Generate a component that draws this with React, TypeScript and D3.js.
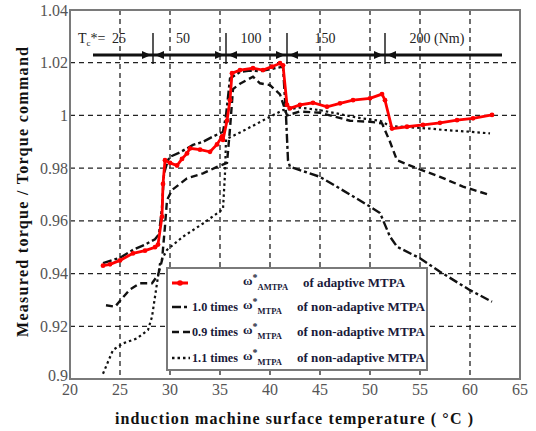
import React from "react";
import * as d3 from "d3";

const xTicks = [20, 25, 30, 35, 40, 45, 50, 55, 60, 65];
const yTicks = [0.9, 0.92, 0.94, 0.96, 0.98, 1.0, 1.02, 1.04];
const yTickLabels = ["0.9", "0.92", "0.94", "0.96", "0.98", "1", "1.02", "1.04"];

// adaptive MTPA (red)
const adaptiveT = [23.3, 24, 25, 26.3, 27.5, 28.5, 28.8, 29.2, 29.3, 29.5, 30, 30.7, 31.2, 31.7, 32, 33, 34, 34.7, 35.2, 35.3, 35.7, 36, 36.2, 37, 38.3, 39.3, 40.2, 41, 41.3, 41.7, 42, 43, 44.3, 45.7, 47, 48.3, 50, 51.2, 51.5, 52.2, 53.7, 55.3, 57, 58.7, 60.3, 62.2];
const adaptiveV = [0.943, 0.9435, 0.945, 0.9477, 0.9487, 0.95, 0.951, 0.9616, 0.974, 0.983, 0.982, 0.981, 0.9835, 0.9856, 0.9875, 0.987, 0.9862, 0.989, 0.992, 0.9907, 0.998, 1.0058, 1.016, 1.0172, 1.0179, 1.0172, 1.0185, 1.0198, 1.019, 1.004, 1.0027, 1.004, 1.0048, 1.0033, 1.0046, 1.0058, 1.0065, 1.0081, 1.0058, 0.995, 0.9957, 0.9964, 0.9972, 0.9982, 0.9989, 1.0002];

// 1.0 times non-adaptive (dash-dot)
const nom10T = [23.3, 25, 26.3, 27.5, 28.5, 28.9, 29.2, 29.4, 29.8, 30, 31, 32.3, 33.3, 34.3, 35.3, 35.6, 36, 37, 38, 39, 40, 41.3, 41.6, 41.8, 42, 45, 48, 50, 51, 52, 52.7, 55, 57, 60, 62.2];
const nom10V = [0.944, 0.946, 0.949, 0.951, 0.953, 0.955, 0.965, 0.978, 0.983, 0.9843, 0.986, 0.9888, 0.99, 0.992, 0.9938, 1.0, 1.014, 1.0165, 1.017, 1.0168, 1.0175, 1.0185, 1.0, 0.983, 0.9805, 0.9767, 0.97, 0.9654, 0.963, 0.954, 0.9502, 0.9458, 0.9407, 0.9337, 0.9293];

// 0.9 times non-adaptive (dashed)
const nom09T = [23.6, 24.5, 25.3, 26, 27, 28.2, 28.8, 29.2, 29.5, 29.7, 30.2, 31.7, 33.3, 34.7, 35.7, 36, 36.3, 37, 38.3, 39, 40, 41, 41.7, 43, 45, 46.5, 48, 50, 51.2, 52, 52.7, 55, 57, 59.3, 62];
const nom09V = [0.928, 0.9274, 0.931, 0.934, 0.9363, 0.9363, 0.9394, 0.945, 0.958, 0.9679, 0.9717, 0.9761, 0.978, 0.9805, 0.982, 0.995, 1.01, 1.012, 1.0147, 1.0122, 1.0115, 1.008, 1.0, 1.0015, 1.001, 0.9995, 0.998, 0.9976, 0.997, 0.99, 0.983, 0.9795, 0.9767, 0.973, 0.9698];

// 1.1 times non-adaptive (dotted)
const nom11T = [23.3, 24.3, 25.3, 26.7, 27.8, 28.2, 28.7, 29, 29.7, 31.3, 33.3, 35.3, 35.5, 35.6, 37, 38.5, 40, 41.3, 43, 45, 47, 49, 51, 52, 54, 56, 57.3, 60, 62];
const nom11V = [0.902, 0.911, 0.9135, 0.9154, 0.9186, 0.9236, 0.9363, 0.9439, 0.949, 0.954, 0.959, 0.9645, 0.978, 0.991, 0.9935, 0.9965, 0.9995, 1.002, 1.003, 1.002, 1.0005, 0.999, 0.998, 0.996, 0.9955, 0.995, 0.9945, 0.9938, 0.9932];

// torque command bands
const torqueLabels = ["25", "50", "100", "150", "200 (Nm)"];
const torqueLabelX = [24.9, 31.3, 38.1, 45.5, 56.7];
const bandBoundaries = [28.3, 35.6, 41.7, 51.5];
const bandStart = 22.3;
const bandEnd = 63.2;

const W = 536;
const H = 431;
const L = 70, R = 520, T = 10, B = 379;

const x = d3.scaleLinear().domain([20, 65]).range([L, R]);
const y = d3.scaleLinear().domain([0.9, 1.04]).range([B, T]);

function pts(ts: number[], vs: number[]): [number, number][] {
  return ts.map((t, i) => [t, vs[i]]);
}

const line = d3
  .line<[number, number]>()
  .x((d) => x(d[0]))
  .y((d) => y(d[1]));

const FONT = '"Liberation Serif", "Times New Roman", serif';

export default function App() {
  const red = pts(adaptiveT, adaptiveV);
  const s10 = pts(nom10T, nom10V);
  const s09 = pts(nom09T, nom09V);
  const s11 = pts(nom11T, nom11V);
  const bandY = 55;

  const arrow = (xp: number, dir: number, key: string) => {
    const p = `${xp},${bandY} ${xp - dir * 9},${bandY - 4} ${xp - dir * 9},${bandY + 4}`;
    return <polygon key={key} points={p} fill="#111" />;
  };

  const legendRows = [
    { y: 283, kind: "red", lead: "" },
    { y: 307, kind: "s10", lead: "1.0 times" },
    { y: 332, kind: "s09", lead: "0.9 times" },
    { y: 358, kind: "s11", lead: "1.1 times" },
  ];

  const dashFor: Record<string, string> = {
    s10: "9,3,3,3",
    s09: "7,4",
    s11: "2.5,3",
  };

  const tf = { fontFamily: FONT };
  const LC = "#1a1a3a";

  return (
    <svg
      width={W}
      height={H}
      style={{ position: "absolute", left: 0, top: 0, background: "#fff", fontFamily: FONT }}
    >
      <rect x={0} y={0} width={W} height={H} fill="#fff" />
      {xTicks.slice(1, -1).map((t) => (
        <line key={"gx" + t} x1={x(t)} x2={x(t)} y1={T} y2={B} stroke="#222" strokeWidth={1.3} strokeDasharray="5,4" />
      ))}
      {yTicks.slice(1, -1).map((t) => (
        <line key={"gy" + t} x1={L} x2={R} y1={y(t)} y2={y(t)} stroke="#222" strokeWidth={1.3} strokeDasharray="5,4" />
      ))}

      <path d={line(s11) || ""} fill="none" stroke="#111" strokeWidth={2.2} strokeDasharray={dashFor.s11} />
      <path d={line(s09) || ""} fill="none" stroke="#111" strokeWidth={2.4} strokeDasharray={dashFor.s09} />
      <path d={line(s10) || ""} fill="none" stroke="#111" strokeWidth={2.4} strokeDasharray={dashFor.s10} />
      <path d={line(red) || ""} fill="none" stroke="#f00" strokeWidth={2.8} />
      {red.map((d, i) => (
        <circle key={"r" + i} cx={x(d[0])} cy={y(d[1])} r={2.4} fill="#f00" />
      ))}

      <rect x={L} y={T} width={R - L} height={B - T} fill="none" stroke="#7a7a7a" strokeWidth={2} />

      <line x1={x(bandStart)} x2={x(bandEnd)} y1={bandY} y2={bandY} stroke="#111" strokeWidth={3} />
      {bandBoundaries.map((b, i) => (
        <g key={"bb" + i}>
          <line x1={x(b)} x2={x(b)} y1={33} y2={64} stroke="#111" strokeWidth={1.4} />
          {arrow(x(b) - 2, 1, "ar" + i)}
          {arrow(x(b) + 2, -1, "al" + i)}
        </g>
      ))}
      <text x={78} y={43} fontSize={14} fill="#222" style={tf}>
        T<tspan fontSize={9} dy={3}>c</tspan>
        <tspan dy={-3}>*=</tspan>
      </text>
      {torqueLabels.map((lab, i) => (
        <text key={"tl" + i} x={x(torqueLabelX[i])} y={43} fontSize={14} fill="#222" textAnchor="middle" style={tf}>
          {lab}
        </text>
      ))}

      {xTicks.map((t) => (
        <text key={"xt" + t} x={x(t)} y={395} fontSize={16} fill="#555" textAnchor="middle" style={tf}>
          {t}
        </text>
      ))}
      {yTicks.map((t, i) => (
        <text key={"yt" + t} x={68} y={y(t) - (i === 0 ? 4 : 0)} dy="0.35em" fontSize={16} fill="#555" textAnchor="end" style={tf}>
          {yTickLabels[i]}
        </text>
      ))}

      <text x={294} y={424} fontSize={16} fontWeight="bold" fill="#111" textAnchor="middle" textLength={358} lengthAdjust="spacing" style={tf}>
        induction machine surface temperature ( °C )
      </text>
      <text
        transform="translate(28,192) rotate(-90)"
        fontSize={16}
        fontWeight="bold"
        fill="#111"
        textAnchor="middle"
        textLength={290}
        lengthAdjust="spacing"
        style={tf}
      >
        Measured torque / Torque command
      </text>

      <rect x={167} y={268} width={260} height={102} fill="#fff" stroke="#7a7a7a" strokeWidth={2} />
      {legendRows.map((r) => {
        const isRed = r.kind === "red";
        return (
          <g key={"lg" + r.kind}>
            {isRed ? (
              <g>
                <line x1={172} x2={188} y1={r.y} y2={r.y} stroke="#f00" strokeWidth={3} />
                <circle cx={180} cy={r.y} r={2.8} fill="#f00" />
              </g>
            ) : (
              <g>
                <line x1={172} x2={190} y1={r.y} y2={r.y} stroke="#111" strokeWidth={2.4} strokeDasharray={dashFor[r.kind]} />
                <text x={192} y={r.y + 4} fontSize={12} fontWeight="bold" fill={LC} textLength={46} lengthAdjust="spacingAndGlyphs" style={tf}>
                  {r.lead}
                </text>
              </g>
            )}
            <text x={243} y={r.y + 2} fontSize={13} fontWeight="bold" fill={LC} style={tf}>
              ω<tspan fontSize={10} dy={-4}>*</tspan>
              <tspan fontSize={8.5} dy={9}>{isRed ? "AMTPA" : "MTPA"}</tspan>
            </text>
            <text
              x={isRed ? 303 : 297}
              y={r.y + 4}
              fontSize={12}
              fontWeight="bold"
              fill={LC}
              textLength={isRed ? 102 : 128}
              lengthAdjust="spacingAndGlyphs"
              style={tf}
            >
              {isRed ? "of adaptive MTPA" : "of non-adaptive MTPA"}
            </text>
          </g>
        );
      })}
    </svg>
  );
}
